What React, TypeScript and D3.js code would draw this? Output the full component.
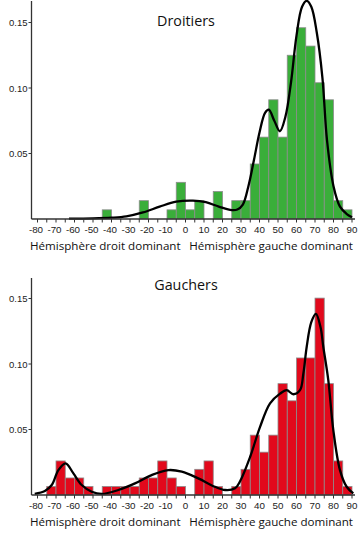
import React from "react";
import * as d3 from "d3";

// ---- data ----
const binWidth = 5;

// Droitiers (right-handers): histogram bin starts and proportions
const droitBinStarts = [-45, -25, -10, -5, 0, 5, 15, 25, 30, 35, 40, 45, 50, 55, 60, 65, 70, 75, 80, 85];
const droitValues = [0.007, 0.014, 0.007, 0.028, 0.007, 0.014, 0.021, 0.014, 0.014, 0.042, 0.0625, 0.091, 0.0625, 0.125, 0.146, 0.132, 0.104, 0.091, 0.014, 0.007];
// Droitiers density curve
const droitCurveX = [-63, -50, -40, -32, -23, -14, -5, 4, 11, 18, 25, 28, 31, 34, 37, 40, 43, 45, 48, 51, 54, 57, 60, 63, 65.5, 68, 71, 74, 76.5, 80, 83.5, 87, 90];
const droitCurveY = [0.0003, 0.0005, 0.001, 0.002, 0.005, 0.0094, 0.0132, 0.014, 0.0128, 0.0095, 0.0068, 0.0072, 0.011, 0.025, 0.045, 0.066, 0.081, 0.0834, 0.075, 0.067, 0.078, 0.104, 0.140, 0.162, 0.1665, 0.162, 0.142, 0.108, 0.06, 0.025, 0.0094, 0.004, 0.0013];

// Gauchers (left-handers)
const gauchBinStarts = [-75, -70, -65, -60, -55, -45, -40, -35, -30, -25, -20, -15, -10, -5, 5, 10, 15, 25, 30, 35, 40, 45, 50, 55, 60, 65, 70, 75, 80, 85];
const gauchValues = [0.0065, 0.026, 0.013, 0.013, 0.0065, 0.0065, 0.0065, 0.0065, 0.0065, 0.013, 0.013, 0.026, 0.013, 0.0065, 0.0196, 0.026, 0.0065, 0.0065, 0.0196, 0.0457, 0.0327, 0.0457, 0.085, 0.0719, 0.1046, 0.1046, 0.1503, 0.085, 0.026, 0.0065];
const gauchCurveX = [-81.5, -76, -72.3, -68.7, -64.8, -60.6, -56.1, -50.7, -45.3, -36.3, -27.3, -18.3, -9.3, -2, 6.9, 15.9, 21.4, 26.8, 29.5, 34.9, 40.3, 45.7, 51.1, 54.7, 58.3, 61.9, 63.7, 65.5, 68, 70.5, 73, 74.5, 77.2, 79.9, 83.5, 87.1, 90.7];
const gauchCurveY = [0.0008, 0.003, 0.0076, 0.019, 0.0241, 0.0165, 0.0076, 0.0025, 0.0008, 0.0038, 0.0089, 0.0152, 0.019, 0.0178, 0.0127, 0.0063, 0.0038, 0.0051, 0.0105, 0.029, 0.052, 0.070, 0.0774, 0.08, 0.0769, 0.08, 0.0926, 0.113, 0.132, 0.1383, 0.128, 0.113, 0.0875, 0.0495, 0.019, 0.0063, 0.0013];

const xTickLabels = [-80, -70, -60, -50, -40, -30, -20, -10, 0, 10, 20, 30, 40, 50, 60, 70, 80, 90];
const yTickValues = [0.05, 0.1, 0.15];

const titles = ["Droitiers", "Gauchers"];
const axisLeftLabel = "Hémisphère droit dominant";
const axisRightLabel = "Hémisphère gauche dominant";

// ---- layout ----
const W = 358;
const H = 535;
const axisX = 31.5;
const pxPerUnit = 1310;
const x = d3.scaleLinear().domain([-80, 90]).range([37.5, 352]);
const minorTicks = d3.range(-80, 91, 5);

const titleFont = "'Open Sans', 'Noto Sans', sans-serif";
const tickFont = "'Liberation Sans', Arial, sans-serif";

type PanelProps = {
  baseline: number;
  axisTop: number;
  titleY: number;
  title: string;
  color: string;
  binStarts: number[];
  values: number[];
  curveX: number[];
  curveY: number[];
};

function Panel(p: PanelProps) {
  const y = d3
    .scaleLinear()
    .domain([0, 1])
    .range([p.baseline, p.baseline - pxPerUnit]);
  const line = d3
    .line<number>()
    .x((_, i) => x(p.curveX[i]))
    .y((d) => y(d))
    .curve(d3.curveCatmullRom.alpha(0.5));
  const pathD = line(p.curveY) || "";
  return (
    <g>
      <text
        x={186}
        y={p.titleY}
        textAnchor="middle"
        dominantBaseline="central"
        fontFamily={titleFont}
        fontSize={14.3}
        fill="#111"
      >
        {p.title}
      </text>
      {p.binStarts.map((b, i) => (
        <rect
          key={i}
          x={x(b)}
          y={y(p.values[i])}
          width={x(b + binWidth) - x(b)}
          height={p.baseline - y(p.values[i])}
          fill={p.color}
          stroke="#8c8c8c"
          strokeWidth={0.8}
        />
      ))}
      <path d={pathD} fill="none" stroke="#000" strokeWidth={2.3} />
      {/* y axis */}
      <line x1={axisX} x2={axisX} y1={p.axisTop} y2={p.baseline} stroke="#333" strokeWidth={1.3} />
      {yTickValues.map((t) => (
        <g key={t}>
          <line x1={axisX - 3} x2={axisX} y1={y(t)} y2={y(t)} stroke="#333" strokeWidth={1} />
          <text
            x={axisX - 4}
            y={y(t)}
            textAnchor="end"
            dominantBaseline="central"
            fontFamily={tickFont}
            fontSize={9.5}
            fill="#222"
          >
            {t.toFixed(2)}
          </text>
        </g>
      ))}
      {/* x axis */}
      <line x1={axisX} x2={355} y1={p.baseline} y2={p.baseline} stroke="#333" strokeWidth={1.3} />
      {minorTicks.map((t) => (
        <line key={t} x1={x(t)} x2={x(t)} y1={p.baseline} y2={p.baseline + 3.5} stroke="#333" strokeWidth={1} />
      ))}
      {xTickLabels.map((t) => (
        <text
          key={t}
          x={x(t) - (t < 0 ? 1.5 : 0)}
          y={p.baseline + 10}
          textAnchor="middle"
          dominantBaseline="central"
          fontFamily={tickFont}
          fontSize={9.8}
          fill="#222"
        >
          {t}
        </text>
      ))}
      <text
        x={30}
        y={p.baseline + 26.5}
        textAnchor="start"
        dominantBaseline="central"
        fontFamily={titleFont}
        fontSize={11.6}
        fill="#111"
      >
        {axisLeftLabel}
      </text>
      <text
        x={353}
        y={p.baseline + 26.5}
        textAnchor="end"
        dominantBaseline="central"
        fontFamily={titleFont}
        fontSize={11.6}
        fill="#111"
      >
        {axisRightLabel}
      </text>
    </g>
  );
}

export default function App() {
  return (
    <svg
      width={W}
      height={H}
      style={{ position: "absolute", left: 0, top: 0, background: "#fff" }}
    >
      <rect x={0} y={0} width={W} height={H} fill="#fff" />
      <Panel
        baseline={219}
        axisTop={1}
        titleY={20}
        title={titles[0]}
        color="#3aae3a"
        binStarts={droitBinStarts}
        values={droitValues}
        curveX={droitCurveX}
        curveY={droitCurveY}
      />
      <Panel
        baseline={495}
        axisTop={278}
        titleY={284}
        title={titles[1]}
        color="#e2091c"
        binStarts={gauchBinStarts}
        values={gauchValues}
        curveX={gauchCurveX}
        curveY={gauchCurveY}
      />
    </svg>
  );
}
